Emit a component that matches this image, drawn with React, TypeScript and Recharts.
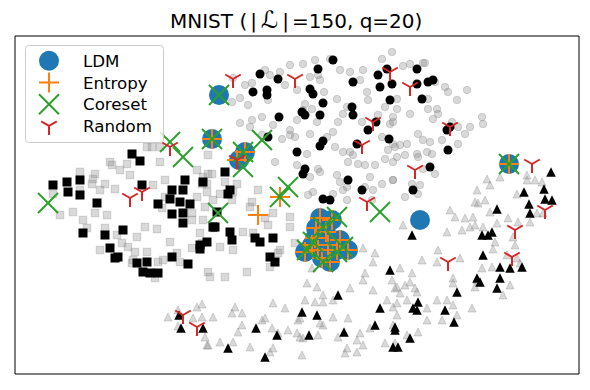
import React from 'react';
import { ScatterChart, Scatter, XAxis, YAxis, ReferenceArea } from 'recharts';

type P = [number, number];

// embedding coordinates (x to the right, y downward)
const grayCircles: P[] = [
  [233,78],[245,85],[252,83],[240,98],[248,105],[232,102],[265,70],[270,75],[240,123],[252,120],[262,117],[250,127],
  [392,52],[382,59],[330,59],[315,60],[303,64],[290,65],[280,72],[340,70],[350,72],[363,70],[310,77],[320,80],[318,75],
  [285,85],[297,90],[324,92],[337,99],[347,107],[367,92],[368,100],[360,80],[385,107],[390,124],[393,117],[378,115],
  [343,114],[362,122],[338,122],[333,132],[317,122],[303,110],[312,109],[305,104],[297,120],[290,130],[282,139],[295,137],
  [310,134],[327,137],[335,147],[343,152],[350,152],[353,155],[358,164],[365,165],[348,162],[375,165],[385,159],[382,137],
  [393,144],[388,150],[397,157],[370,177],[382,184],[393,180],[373,190],[365,187],[347,187],[340,182],[337,175],[318,169],
  [320,172],[310,177],[297,165],[275,162],[313,192],[308,195],[333,194],[343,190],[347,200],[372,200],[273,125],[290,135],
  [307,154],[262,135],[268,100],
  [403,66],[410,64],[423,63],[425,63],[445,87],[448,92],[467,90],[457,100],[435,82],[428,99],[397,99],[397,109],[410,114],
  [428,109],[437,109],[438,114],[433,119],[452,122],[465,134],[470,127],[458,127],[482,117],[483,124],[393,122],[418,134],
  [423,140],[430,142],[442,140],[458,144],[407,144],[400,145],[395,147],[405,155],[417,154],[427,152],[432,154],[418,157],
  [393,162],[423,169],[435,174],[393,180],[412,184],[420,185],[405,197],[418,194],
];

const blackCircles: P[] = [
  [260,74],[278,79],[318,69],[333,60],[353,82],[378,75],[380,87],[392,84],[387,69],[253,92],[267,90],[267,95],[310,89],
  [313,94],[323,103],[302,112],[305,115],[320,115],[279,117],[352,107],[353,115],[390,100],[376,122],[368,130],[389,139],
  [357,144],[323,141],[320,146],[297,152],[268,137],[305,169],[303,174],[348,180],[362,190],[323,199],[330,200],[417,69],
  [428,82],[433,80],[417,84],[422,99],[447,130],[450,127],[448,150],[430,167],[413,190],
];

const graySquares: P[] = [
  [152,147],[147,147],[160,147],[110,162],[112,165],[127,164],[160,162],[120,170],[80,172],[95,174],[130,175],[93,179],
  [105,184],[115,189],[100,190],[92,184],[153,185],[165,180],[80,190],[53,194],[207,192],[208,174],[197,170],[202,184],
  [165,197],[197,197],
  [73,212],[60,215],[83,220],[95,213],[107,215],[87,228],[105,228],[117,235],[122,243],[128,247],[100,250],[135,252],
  [147,252],[133,260],[132,263],[158,262],[163,260],[177,253],[180,262],[155,278],[145,227],[157,229],[170,242],[192,248],
  [200,233],[208,272],[210,277],[205,207],[192,213],[192,220],[162,208],[137,237],
  [203,220],[213,228],[243,232],[253,233],[268,225],[290,217],[290,227],[273,213],[280,250],[270,267],[247,272],[225,277],
  [220,247],[202,243],[295,243],[278,253],[250,207],[265,218],[233,250],
  [208,155],[203,177],[212,174],[207,184],[225,182],[237,184],[233,192],[220,194],[213,200],[252,202],[258,190],[232,200],
];

const blackSquares: P[] = [
  [132,154],[140,161],[53,185],[67,182],[68,192],[80,180],[80,195],[142,185],[185,180],[183,190],[203,182],[172,190],
  [170,199],[158,204],[180,202],[190,204],
  [97,203],[83,233],[105,235],[123,230],[110,248],[115,258],[118,257],[137,263],[147,262],[143,272],[150,273],[158,273],
  [172,257],[188,264],[172,214],[183,213],[183,223],[213,227],[200,245],[207,242],[200,249],
  [217,212],[215,227],[230,232],[232,240],[255,238],[260,242],[273,238],[270,257],[275,262],
  [225,172],[230,190],[228,194],
];

const grayTriangles: P[] = [
  [168,317],[178,310],[197,307],[202,304],[193,318],[202,317],[178,326],[205,337],[208,345],[213,317],
  [317,287],[323,295],[323,302],[315,302],[305,300],[285,308],[273,303],[235,307],[242,313],[232,313],[265,318],[262,320],
  [242,325],[272,328],[288,330],[298,320],[300,318],[320,323],[323,325],[333,317],[348,318],[333,300],[350,288],[365,273],
  [373,290],[363,280],[373,262],[375,253],[387,300],[393,307],[392,280],[395,288],[393,325],[385,343],[370,328],[360,333],
  [357,340],[363,345],[347,348],[345,353],[357,352],[338,337],[318,335],[300,337],[297,333],[302,355],[278,333],[273,348],
  [270,352],[250,347],[233,342],[220,342],[207,345],[238,332],[307,283],[303,338],[312,268],[363,248],
  [487,179],[490,185],[500,177],[477,190],[485,200],[475,202],[517,194],[527,180],[527,175],[535,180],[542,182],
  [450,210],[455,217],[465,218],[473,217],[475,225],[478,203],[490,212],[497,223],[508,218],[518,222],[530,222],[537,213],
  [543,213],[462,230],[447,232],[470,227],[483,227],[495,242],[493,249],[513,237],[515,245],[507,255],[517,258],[520,263],
  [438,250],[422,260],[437,262],[460,258],[403,225],[400,268],[412,273],[410,282],[405,285],[397,287],[415,288],[417,292],
  [400,293],[407,300],[397,303],[397,315],[427,308],[437,300],[447,300],[453,278],[453,283],[477,280],[475,287],[492,267],
  [482,268],[503,295],[510,285],[472,308],[457,315],[442,320],[427,320],[453,305],[418,332],[407,335],[395,343],
];

const blackTriangles: P[] = [
  [179,315],[181,328],[203,328],
  [390,270],[338,295],[302,312],[317,315],[380,308],[375,325],[395,327],[393,347],[344,332],[309,335],[277,335],[256,328],
  [228,348],[265,357],
  [551,172],[524,192],[544,189],[545,199],[552,200],[529,204],
  [497,209],[530,213],[412,235],[482,235],[488,235],[492,232],[483,255],[500,267],[510,268],[522,267],[477,278],[480,282],
  [500,278],[497,288],[457,292],[418,302],[413,308],[417,310],[445,310],[454,322],[395,330],[410,338],[398,347],
];

const ldm: P[] = [
  [219,95],[212,139],[245,152],[239,160],[420,220],[509,164],
  [320,218],[332,220],[326,232],[315,238],[312,245],[305,252],[318,250],[322,258],[330,262],[340,240],[348,250],[337,250],
  [328,245],[316,228],
];

const entropy: P[] = [
  [212,139],[245,152],[237,160],[258,215],[280,197],[509,164],
  [320,218],[332,220],[326,232],[315,238],[312,245],[305,252],[318,250],[322,258],[330,262],[340,240],[348,250],[337,250],
  [328,245],[316,228],
];

const coreset: P[] = [
  [219,95],[212,139],[262,140],[243,152],[243,167],[170,142],[183,157],[48,203],[218,213],[280,197],[288,187],[380,212],
  [337,217],[323,227],[313,242],[307,250],[323,262],[337,252],[343,247],[509,164],
];

const random: P[] = [
  [233,79],[295,79],[390,72],[410,87],[373,122],[450,127],[362,145],[415,170],[532,164],[367,202],[170,147],[130,198],
  [142,192],[183,315],[197,327],[237,160],[545,210],[515,230],[512,257],[448,262],
];

const legendLabels = ['LDM', 'Entropy', 'Coreset', 'Random'];

const BLUE = '#1f77b4';
const ORANGE = '#ff7f0e';
const GREEN = '#2ca02c';
const RED = '#d62728';

const toPts = (a: P[]) => a.map(([x, y]) => ({ x, y }));

const drawMarker = (kind: string, cx: number, cy: number, color: string, size: number, opacity = 1) => {
  const h = size / 2;
  const edge = opacity < 1;
  const common = edge
    ? { fill: color, fillOpacity: opacity, stroke: color, strokeOpacity: opacity, strokeWidth: 1 }
    : { fill: color };
  const r = edge ? h - 0.5 : h;
  switch (kind) {
    case 'circle':
      return <circle cx={cx} cy={cy} r={r} {...common} />;
    case 'square':
      return <rect x={cx - r} y={cy - r} width={2 * r} height={2 * r} {...common} />;
    case 'triangle':
      return (
        <polygon points={`${cx},${cy - r} ${cx - r},${cy + r} ${cx + r},${cy + r}`} {...common} />
      );
    case 'plus':
      return (
        <g stroke={color} strokeWidth={2}>
          <line x1={cx - h} y1={cy} x2={cx + h} y2={cy} />
          <line x1={cx} y1={cy - h} x2={cx} y2={cy + h} />
        </g>
      );
    case 'x':
      return (
        <g stroke={color} strokeWidth={2}>
          <line x1={cx - h} y1={cy - h} x2={cx + h} y2={cy + h} />
          <line x1={cx - h} y1={cy + h} x2={cx + h} y2={cy - h} />
        </g>
      );
    case 'tri':
    default:
      return (
        <g stroke={color} strokeWidth={2}>
          <line x1={cx} y1={cy} x2={cx} y2={cy + h} />
          <line x1={cx} y1={cy} x2={cx - h * 0.866} y2={cy - h * 0.5} />
          <line x1={cx} y1={cy} x2={cx + h * 0.866} y2={cy - h * 0.5} />
        </g>
      );
  }
};

const shape = (kind: string, color: string, size: number, opacity = 1) => (props: any) => {
  const { cx, cy } = props;
  if (cx == null || cy == null) return <g />;
  return drawMarker(kind, cx, cy, color, size, opacity);
};

const GRAY = '#808080';
const GA = 0.3;

export default function App() {
  const legendY = [60.8, 82.5, 104.2, 125.9];
  const legendKinds = ['circle', 'plus', 'x', 'tri'];
  const legendColors = [BLUE, ORANGE, GREEN, RED];
  return (
    <div style={{ position: 'absolute', left: 0, top: 0, width: 590, height: 390, background: '#fff' }}>
      <ScatterChart width={590} height={390} margin={{ top: 36, right: 11, bottom: 16, left: 15 }}>
        <XAxis type="number" dataKey="x" domain={[15, 579]} hide allowDataOverflow />
        <YAxis type="number" dataKey="y" domain={[36, 374]} reversed hide allowDataOverflow />
        <Scatter data={toPts(grayCircles)} shape={shape('circle', GRAY, 8.5, GA)} isAnimationActive={false} />
        <Scatter data={toPts(graySquares)} shape={shape('square', GRAY, 8.5, GA)} isAnimationActive={false} />
        <Scatter data={toPts(grayTriangles)} shape={shape('triangle', GRAY, 9, GA)} isAnimationActive={false} />
        <Scatter data={toPts(blackCircles)} shape={shape('circle', '#000', 9)} isAnimationActive={false} />
        <Scatter data={toPts(blackSquares)} shape={shape('square', '#000', 9)} isAnimationActive={false} />
        <Scatter data={toPts(blackTriangles)} shape={shape('triangle', '#000', 9.5)} isAnimationActive={false} />
        <Scatter data={toPts(ldm)} shape={shape('circle', BLUE, 20)} isAnimationActive={false} />
        <Scatter data={toPts(entropy)} shape={shape('plus', ORANGE, 20)} isAnimationActive={false} />
        <Scatter data={toPts(coreset)} shape={shape('x', GREEN, 20)} isAnimationActive={false} />
        <Scatter data={toPts(random)} shape={shape('tri', RED, 18)} isAnimationActive={false} />
        <ReferenceArea x1={15} x2={579} y1={36} y2={374} fill="none" stroke="#000" strokeWidth={1} ifOverflow="visible" />
      </ScatterChart>
      <svg
        width={590}
        height={390}
        style={{ position: 'absolute', left: 0, top: 0, pointerEvents: 'none' }}
        fontFamily="DejaVu Sans"
      >
        <text x={170} y={28} fontSize={20} fill="#000">
          <tspan>MNIST (</tspan>
          <tspan dx={3}>|</tspan>
          <tspan dx={4} fontSize={24} fontStyle="italic">ℒ</tspan>
          <tspan dx={4}>|</tspan>
          <tspan dx={3}>=150, q=20)</tspan>
        </text>
        <rect x={25.5} y={45.5} width={138} height={97} rx={3} fill="#fff" fillOpacity={0.8} stroke="#cccccc" />
        {legendLabels.map((label, i) => (
          <g key={label}>
            {drawMarker(legendKinds[i], 49, legendY[i], legendColors[i], i === 3 ? 18 : 20)}
            <text x={83} y={legendY[i] + 6} fontSize={16.67} fill="#000">
              {label}
            </text>
          </g>
        ))}
      </svg>
    </div>
  );
}
